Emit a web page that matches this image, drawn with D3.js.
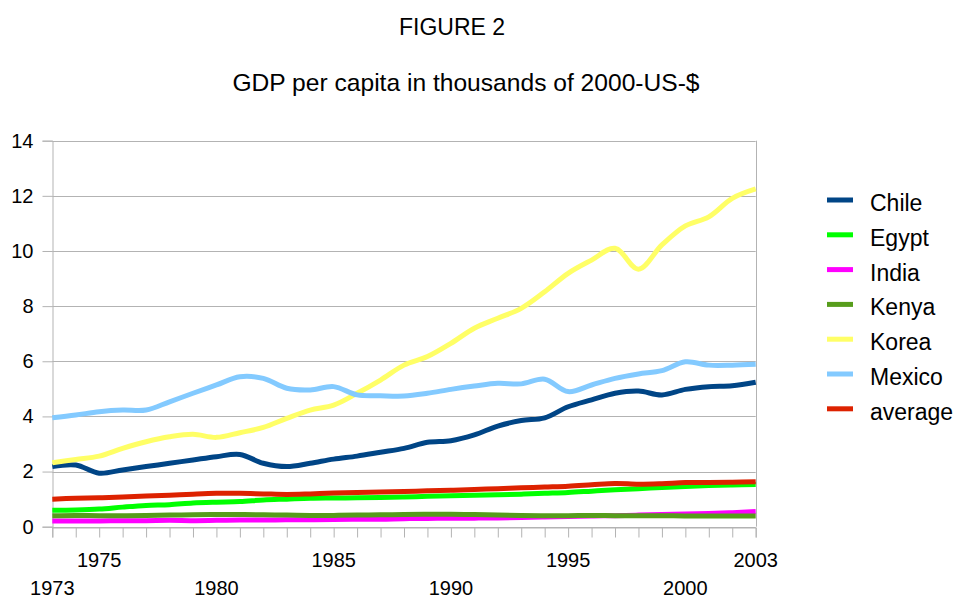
<!DOCTYPE html>
<html lang="en">
<head>
  <meta charset="UTF-8">
  <title>Figure 2</title>
  <style>
    body { margin: 0; background: #fff; }
    text { font-family: "Liberation Sans", Arial, sans-serif; fill: #000; }
  </style>
</head>
<body>
  <div id="chart"></div>
  <script src="https://d3js.org/d3.v7.min.js"></script>
  <script>
    const width = 957, height = 599;

    // data, thousands of 2000-US-$
    const years = d3.range(1973, 2004);
    const chile   = [2.18,2.24,1.94,2.06,2.18,2.30,2.42,2.54,2.62,2.30,2.18,2.30,2.45,2.56,2.70,2.84,3.06,3.12,3.33,3.65,3.85,3.95,4.35,4.60,4.84,4.92,4.78,4.98,5.08,5.11,5.24];
    const egypt   = [0.60,0.61,0.64,0.71,0.77,0.80,0.86,0.89,0.91,0.97,1.00,1.03,1.04,1.05,1.06,1.08,1.10,1.12,1.14,1.16,1.18,1.21,1.24,1.29,1.34,1.38,1.42,1.46,1.49,1.51,1.53];
    const india   = [0.21,0.21,0.21,0.22,0.22,0.23,0.22,0.23,0.24,0.24,0.25,0.25,0.26,0.27,0.27,0.29,0.30,0.31,0.31,0.32,0.33,0.35,0.37,0.39,0.40,0.42,0.44,0.46,0.48,0.51,0.55];
    const kenya   = [0.40,0.41,0.40,0.40,0.41,0.42,0.43,0.44,0.44,0.43,0.42,0.41,0.41,0.42,0.43,0.44,0.45,0.45,0.44,0.42,0.41,0.40,0.40,0.41,0.40,0.40,0.40,0.39,0.39,0.39,0.39];
    const korea   = [2.32,2.44,2.56,2.84,3.08,3.26,3.35,3.24,3.41,3.60,3.93,4.23,4.41,4.84,5.32,5.86,6.17,6.65,7.20,7.56,7.92,8.52,9.19,9.67,10.10,9.34,10.22,10.91,11.24,11.91,12.25];
    const mexico  = [3.95,4.05,4.17,4.23,4.23,4.53,4.84,5.14,5.44,5.38,5.02,4.96,5.08,4.78,4.75,4.74,4.84,4.98,5.10,5.20,5.18,5.35,4.90,5.14,5.38,5.54,5.66,5.98,5.86,5.86,5.89];
    const average = [1.00,1.03,1.05,1.08,1.11,1.14,1.18,1.21,1.21,1.19,1.17,1.19,1.22,1.24,1.26,1.28,1.30,1.32,1.35,1.38,1.41,1.44,1.47,1.52,1.57,1.54,1.56,1.60,1.60,1.61,1.63];

    const names  = ["Chile", "Egypt", "India", "Kenya", "Korea", "Mexico", "average"];
    const values = [chile, egypt, india, kenya, korea, mexico, average];
    const colors = ["#004586", "#00ff00", "#ff00ff", "#579d1c", "#ffff66", "#83caff", "#dd2200"];

    const yTicks = [0, 2, 4, 6, 8, 10, 12, 14];
    const upperLabels = [1975, 1985, 1995, 2003];
    const lowerLabels = [1973, 1980, 1990, 2000];

    const plot = {left: 52.3, right: 755.7, top: 140.7, bottom: 526.7};

    const svg = d3.select("#chart").append("svg")
      .attr("width", width).attr("height", height);

    const x = d3.scaleLinear().domain([1973, 2003]).range([plot.left, plot.right]);
    const y = d3.scaleLinear().domain([0, 14]).range([plot.bottom, plot.top]);

    // titles
    svg.append("text").attr("x", 452).attr("y", 35).attr("text-anchor", "middle")
      .style("font-size", "23px").text("FIGURE 2");
    svg.append("text").attr("x", 466).attr("y", 91).attr("text-anchor", "middle")
      .style("font-size", "24.6px").text("GDP per capita in thousands of 2000-US-$");

    // grid
    svg.append("g").selectAll("line").data(yTicks).join("line")
      .attr("x1", plot.left).attr("x2", plot.right)
      .attr("y1", d => Math.round(y(d)) + 0.5).attr("y2", d => Math.round(y(d)) + 0.5)
      .attr("stroke", "#b3b3b3");
    svg.append("line")
      .attr("x1", Math.round(plot.right) + 0.5).attr("x2", Math.round(plot.right) + 0.5)
      .attr("y1", plot.top).attr("y2", plot.bottom)
      .attr("stroke", "#b3b3b3");

    // y axis
    const yAxis = svg.append("g")
      .attr("transform", `translate(${Math.round(plot.left) + 0.5},0)`)
      .call(d3.axisLeft(y).tickValues(yTicks).tickSize(10).tickPadding(9));
    yAxis.select(".domain").attr("stroke", "#b3b3b3");
    yAxis.selectAll(".tick line").attr("stroke", "#b3b3b3");
    yAxis.selectAll("text").style("font-size", "20px").attr("font-family", null).attr("fill", "#000");

    // x axis, tick every year
    const xAxis = svg.append("g")
      .attr("transform", `translate(0,${Math.round(plot.bottom) + 0.5})`)
      .call(d3.axisBottom(x).tickValues(years).tickSize(10).tickFormat(""));
    xAxis.select(".domain").attr("stroke", "#b3b3b3");
    xAxis.selectAll(".tick line").attr("stroke", "#b3b3b3");

    svg.append("g").selectAll("text").data(upperLabels).join("text")
      .attr("x", d => x(d)).attr("y", 567).attr("text-anchor", "middle")
      .style("font-size", "20px").text(d => d);
    svg.append("g").selectAll("text").data(lowerLabels).join("text")
      .attr("x", d => x(d)).attr("y", 595).attr("text-anchor", "middle")
      .style("font-size", "20px").text(d => d);

    // lines
    const line = d3.line()
      .x((d, i) => x(years[i]))
      .y(d => y(d))
      .curve(d3.curveCatmullRom.alpha(0.5));

    svg.append("g").selectAll("path").data(values).join("path")
      .attr("d", d => line(d))
      .attr("fill", "none")
      .attr("stroke", (d, i) => colors[i])
      .attr("stroke-width", 5)
      .attr("stroke-linejoin", "round");

    // legend
    const legend = svg.append("g").selectAll("g").data(names).join("g")
      .attr("transform", (d, i) => `translate(827,${200 + i * 34.8})`);
    legend.append("rect")
      .attr("x", 0).attr("y", -2.5).attr("width", 26).attr("height", 5)
      .attr("fill", (d, i) => colors[i]);
    legend.append("text")
      .attr("x", 43).attr("y", 11)
      .style("font-size", "23px").text(d => d);
  </script>
</body>
</html>
